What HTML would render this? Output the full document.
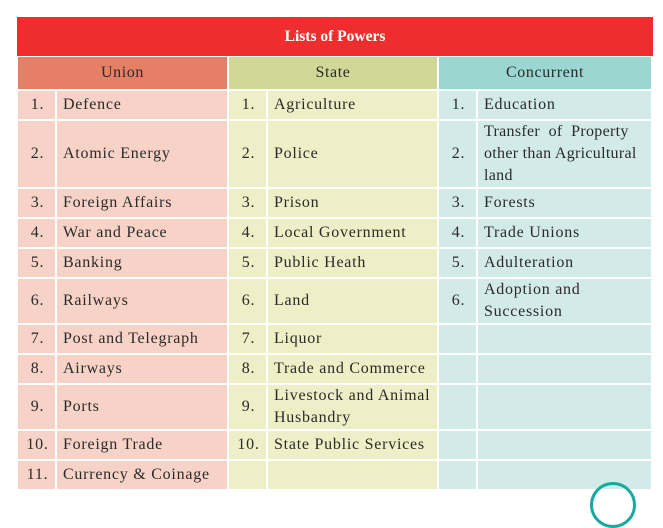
<!DOCTYPE html>
<html><head><style>
body{margin:0;background:#fff;width:663px;height:490px;overflow:hidden;position:relative;font-family:"Liberation Serif",serif;}
.t{position:absolute;left:17px;top:17px;width:636px;height:39px;background:#ee2e2e;color:#fff;font-weight:bold;font-size:15.5px;text-align:center;line-height:39px;}
table{position:absolute;left:16px;top:55px;border-collapse:separate;border-spacing:2px;font-size:16px;letter-spacing:0.75px;color:#2a2a2a;table-layout:fixed;width:637px;}
td{padding:0 0 0 6px;line-height:22px;vertical-align:middle;overflow:hidden;white-space:nowrap;}
th{font-weight:normal;height:30px;font-size:16px;letter-spacing:0.6px;}
.u{background:#f7d3c7}.s{background:#eeefc6}.c{background:#d3ebe8}
.n{text-align:center;padding:0 0 0 2px;}
tr.r td{height:28px}tr.r2 td{height:44px}tr.r3 td{height:66px}
</style></head><body>
<div class="t">Lists of Powers</div>
<table>
<colgroup><col style="width:37px"><col style="width:170px"><col style="width:37px"><col style="width:169px"><col style="width:37px"><col style="width:173px"></colgroup>
<tr><th colspan="2" style="background:#e58066">Union</th><th colspan="2" style="background:#d0d898">State</th><th colspan="2" style="background:#9cd6d0">Concurrent</th></tr>
<tr class="r"><td class="u n">1.</td><td class="u">Defence</td><td class="s n">1.</td><td class="s">Agriculture</td><td class="c n">1.</td><td class="c">Education</td></tr>
<tr class="r3"><td class="u n">2.</td><td class="u">Atomic Energy</td><td class="s n">2.</td><td class="s">Police</td><td class="c n">2.</td><td class="c" style="letter-spacing:0.3px">Transfer&nbsp;&nbsp;of&nbsp;&nbsp;Property<br>other than Agricultural<br>land</td></tr>
<tr class="r"><td class="u n">3.</td><td class="u">Foreign Affairs</td><td class="s n">3.</td><td class="s">Prison</td><td class="c n">3.</td><td class="c">Forests</td></tr>
<tr class="r"><td class="u n">4.</td><td class="u">War and Peace</td><td class="s n">4.</td><td class="s">Local Government</td><td class="c n">4.</td><td class="c">Trade Unions</td></tr>
<tr class="r"><td class="u n">5.</td><td class="u">Banking</td><td class="s n">5.</td><td class="s">Public Heath</td><td class="c n">5.</td><td class="c">Adulteration</td></tr>
<tr class="r2"><td class="u n">6.</td><td class="u">Railways</td><td class="s n">6.</td><td class="s">Land</td><td class="c n">6.</td><td class="c">Adoption and<br>Succession</td></tr>
<tr class="r"><td class="u n">7.</td><td class="u">Post and Telegraph</td><td class="s n">7.</td><td class="s">Liquor</td><td class="c n"></td><td class="c"></td></tr>
<tr class="r"><td class="u n">8.</td><td class="u">Airways</td><td class="s n">8.</td><td class="s">Trade and Commerce</td><td class="c n"></td><td class="c"></td></tr>
<tr class="r2"><td class="u n">9.</td><td class="u">Ports</td><td class="s n">9.</td><td class="s">Livestock and Animal<br>Husbandry</td><td class="c n"></td><td class="c"></td></tr>
<tr class="r"><td class="u n">10.</td><td class="u">Foreign Trade</td><td class="s n">10.</td><td class="s">State Public Services</td><td class="c n"></td><td class="c"></td></tr>
<tr class="r"><td class="u n">11.</td><td class="u">Currency &amp; Coinage</td><td class="s n"></td><td class="s"></td><td class="c n"></td><td class="c"></td></tr>
</table>
<div style="position:absolute;left:590px;top:482px;width:46px;height:46px;border:3px solid #1aa9a0;border-radius:50%;box-sizing:border-box"></div>
</body></html>
